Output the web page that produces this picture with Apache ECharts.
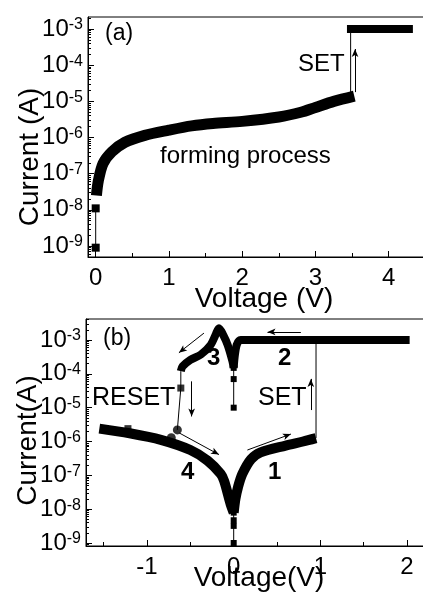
<!DOCTYPE html>
<html>
<head>
<meta charset="utf-8">
<script src="https://cdn.jsdelivr.net/npm/echarts@6/dist/echarts.min.js"></script>
<style>
  html, body { margin: 0; padding: 0; background: #fff; }
  #chart { width: 423px; height: 597px; }
</style>
</head>
<body>
<div id="chart"></div>
<script>
// ---- panel (a): forming process ----
const formDotV = [0, 0];
const formDotI = [9e-10, 1.1e-8];
const formV = [0.01, 0.036, 0.1, 0.22, 0.4, 0.67, 1.0, 1.31, 1.6, 2.0, 2.5, 2.8, 3.0, 3.25, 3.53];
const formI = [2.5e-8, 6.3e-8, 1.9e-7, 4.0e-7, 7.4e-7, 1.15e-6, 1.6e-6, 2.1e-6, 2.45e-6, 2.8e-6, 3.7e-6, 5.0e-6, 6.8e-6, 1.0e-5, 1.4e-5];
const formSetV = [3.48, 3.48];
const formSetI = [1.4e-5, 1e-3];
const formOnV = [3.43, 4.33];
const formOnI = [1e-3, 1e-3];

// ---- panel (b): switching loop ----
const b1V = [0, 0.02, 0.05, 0.1, 0.2, 0.31, 0.6, 0.8, 0.95];
const b1I = [7.9e-9, 2.0e-8, 4.5e-8, 1.1e-7, 3.0e-7, 4.8e-7, 7.6e-7, 1.0e-6, 1.26e-6];
const bSetV = [0.95, 0.95];
const bSetI = [1.26e-6, 1e-3];
const b2V = [2.03, 0.08, 0.035, 0.01, 0];
const b2I = [1e-3, 1e-3, 7.2e-4, 3e-4, 1.5e-4];
const b3V = [0, -0.015, -0.07, -0.12, -0.17, -0.21, -0.265, -0.38, -0.5, -0.59, -0.61];
const b3I = [1.5e-4, 2.4e-4, 7.2e-4, 1.4e-3, 2.24e-3, 1.4e-3, 7.2e-4, 3.7e-4, 2.6e-4, 1.66e-4, 1.2e-4];
const bResetV = [-0.61, -0.61, -0.65];
const bResetI = [1.2e-4, 3.8e-5, 2.2e-6];
const b4V = [-1.55, -1.2, -0.84, -0.5, -0.3, -0.15, -0.11, -0.035, 0];
const b4I = [2.4e-6, 1.75e-6, 1.12e-6, 5.6e-7, 2.7e-7, 1.1e-7, 6.8e-8, 1.4e-8, 7.9e-9];
const bLowDotV = [0, 0, 0, 0];
const bLowDotI = [7.9e-9, 4.7e-9, 3.2e-9, 1e-9];
const bHighDotV = [0, 0, 0];
const bHighDotI = [1.5e-4, 7e-5, 1e-5];
const bSquareV = [-0.61, -1.22];
const bSquareI = [3.8e-5, 2.4e-6];
const bCircleV = [-0.65, -0.72];
const bCircleI = [2.2e-6, 1.3e-6];

// tick values
const decades = [1e-9, 1e-8, 1e-7, 1e-6, 1e-5, 1e-4, 1e-3];
const aMajorX = [0, 1, 2, 3, 4];
const aMinorX = [0.5, 1.5, 2.5, 3.5, 4.5];
const bMajorX = [-1, 0, 1, 2];
const bMinorX = [-1.5, -0.5, 0.5, 1.5];
const logMinor = [];
for (let e = -10; e <= -3; e++) {
  for (let m = 2; m <= 9; m++) logMinor.push(m * Math.pow(10, e));
}

const FONT = '"Liberation Sans", Arial, sans-serif';
const pairs = (xs, ys) => xs.map((x, i) => [x, ys[i]]);

const chart = echarts.init(document.getElementById('chart'), null, { renderer: 'canvas' });

function expLabel(v) {
  const e = Math.round(Math.log10(v));
  return '{b|10}{s|' + e + '}';
}
const expRich = {
  b: { fontSize: 24, fontFamily: FONT, color: '#000' },
  s: { fontSize: 16, fontFamily: FONT, color: '#000', verticalAlign: 'top' }
};

function xMain(grid, min, max, ticks, name, gap) {
  return {
    gridIndex: grid, type: 'value', position: 'bottom', min: min, max: max,
    axisLine: { show: true, onZero: false, lineStyle: { color: '#000', width: 1 } },
    axisTick: { inside: true, length: 6, customValues: ticks, lineStyle: { color: '#000' } },
    axisLabel: { customValues: ticks, margin: 9, fontSize: 24, fontFamily: FONT, color: '#000' },
    splitLine: { show: false },
    name: name, nameLocation: 'middle', nameGap: gap, nameMoveOverlap: false,
    nameTextStyle: { fontSize: 28, fontFamily: FONT, color: '#000' }
  };
}
function xMinor(grid, min, max, ticks) {
  return {
    gridIndex: grid, type: 'value', position: 'bottom', min: min, max: max,
    axisLine: { show: false, onZero: false },
    axisTick: { show: true, inside: true, length: 4, customValues: ticks, lineStyle: { color: '#000', width: 1 } },
    axisLabel: { show: false },
    splitLine: { show: false }
  };
}
function yMain(grid, min, max, name, pad) {
  return {
    gridIndex: grid, type: 'log', logBase: 10, min: min, max: max, position: 'left',
    axisLine: { show: true, onZero: false, lineStyle: { color: '#000', width: 1 } },
    axisTick: { inside: true, length: 6, customValues: decades, lineStyle: { color: '#000' } },
    axisLabel: { customValues: decades, margin: 5, formatter: expLabel, rich: expRich },
    splitLine: { show: false },
    name: name, nameLocation: 'middle', nameGap: 44, nameMoveOverlap: false,
    nameTextStyle: { fontSize: 28, fontFamily: FONT, color: '#000', padding: pad }
  };
}
function yMinor(grid, min, max) {
  return {
    gridIndex: grid, type: 'log', logBase: 10, min: min, max: max, position: 'left',
    axisLine: { show: false, onZero: false },
    axisTick: { show: true, inside: true, length: 3, customValues: logMinor, lineStyle: { color: '#000', width: 1 } },
    axisLabel: { show: false },
    splitLine: { show: false }
  };
}

function thick(xi, data, w) {
  return {
    type: 'line', xAxisIndex: xi, yAxisIndex: xi, data: data, symbol: 'none',
    smooth: 0.3,
    lineStyle: { color: '#000', width: w, cap: 'butt', join: 'round' }, z: 3
  };
}
function thin(xi, data, sym, size) {
  return {
    type: 'line', xAxisIndex: xi, yAxisIndex: xi, data: data,
    symbol: sym || 'none', symbolSize: size || 6, showSymbol: !!sym,
    itemStyle: { color: '#000' },
    lineStyle: { color: '#000', width: 1 }, z: 4
  };
}
function dots(xi, data, sym, size) {
  return {
    type: 'scatter', xAxisIndex: xi, yAxisIndex: xi, data: data,
    symbol: sym, symbolSize: size, itemStyle: { color: '#000' }, z: 5
  };
}
function arrows(xi, segs) {
  return {
    type: 'line', xAxisIndex: xi, yAxisIndex: xi, data: [], silent: true,
    markLine: {
      silent: true, symbol: ['none', 'arrow'], symbolSize: [5, 8],
      label: { show: false },
      lineStyle: { color: '#000', width: 1, type: 'solid' },
      data: segs.map(s => [{ coord: [s[0], s[1]] }, { coord: [s[2], s[3]] }])
    }
  };
}

function txt(x, y, s, size, bold) {
  return {
    type: 'text', x: x, y: y,
    style: { text: s, fill: '#000', font: (bold ? 'bold ' : '') + size + 'px ' + FONT, textVerticalAlign: 'middle' }
  };
}

chart.setOption({
  animation: false,
  backgroundColor: '#fff',
  grid: [
    { left: 88, top: 17, width: 352, height: 240, outerBoundsMode: 'none', containLabel: false,
      show: true, borderColor: '#000', borderWidth: 1 },
    { left: 86, top: 319, width: 346, height: 227, outerBoundsMode: 'none', containLabel: false,
      show: true, borderColor: '#000', borderWidth: 1 }
  ],
  xAxis: [
    xMain(0, -0.105, 4.70, aMajorX, 'Voltage (V)', 28),
    xMinor(0, -0.105, 4.70, aMinorX),
    xMain(1, -1.704, 2.288, bMajorX, 'Voltage(V)', 18),
    xMinor(1, -1.704, 2.288, bMinorX)
  ],
  yAxis: [
    yMain(0, 4.97e-10, 2.15e-3, 'Current (A)', [0, 40, 0, 0]),
    yMinor(0, 4.97e-10, 2.15e-3),
    yMain(1, 8.15e-10, 4.18e-3, 'Current(A)', [0, 16, 0, 0]),
    yMinor(1, 8.15e-10, 4.18e-3)
  ],
  series: [
    thin(0, pairs(formDotV, formDotI), 'rect', 8),
    thick(0, pairs(formV, formI), 11),
    thin(0, pairs(formSetV, formSetI)),
    thick(0, pairs(formOnV, formOnI), 8),
    arrows(0, [[3.54, 1.8e-5, 3.54, 2.8e-4]]),

    thick(2, pairs(b1V, b1I), 10),
    thin(2, pairs(bSetV, bSetI)),
    thick(2, pairs(b2V, b2I), 8),
    thick(2, pairs(b3V, b3I), 8),
    thin(2, pairs(bResetV, bResetI)),
    thick(2, pairs(b4V, b4I), 10),
    thin(2, pairs(bLowDotV, bLowDotI), 'rect', 6),
    thin(2, pairs(bHighDotV, bHighDotI), 'rect', 6),
    dots(2, pairs(bSquareV, bSquareI), 'rect', 7),
    dots(2, pairs(bCircleV, bCircleI), 'circle', 9),
    arrows(2, [
      [0.775, 1.74e-3, 0.39, 1.74e-3],
      [-0.343, 1.6e-3, -0.632, 4.2e-4],
      [-0.485, 6.0e-5, -0.485, 5.5e-6],
      [-0.63, 1.8e-6, -0.17, 4.1e-7],
      [0.158, 5.6e-7, 0.66, 1.66e-6],
      [0.89, 8.5e-6, 0.89, 7.1e-5]
    ])
  ],
  graphic: [
    txt(105, 34, '(a)', 23),
    txt(298, 64, 'SET', 24),
    txt(160, 156, 'forming process', 24),
    txt(103, 339, '(b)', 23),
    txt(92, 398, 'RESET', 25),
    txt(258, 398, 'SET', 25),
    txt(207, 358, '3', 24, true),
    txt(278, 358, '2', 24, true),
    txt(181, 472, '4', 24, true),
    txt(268, 472, '1', 24, true)
  ]
});
</script>
</body>
</html>
